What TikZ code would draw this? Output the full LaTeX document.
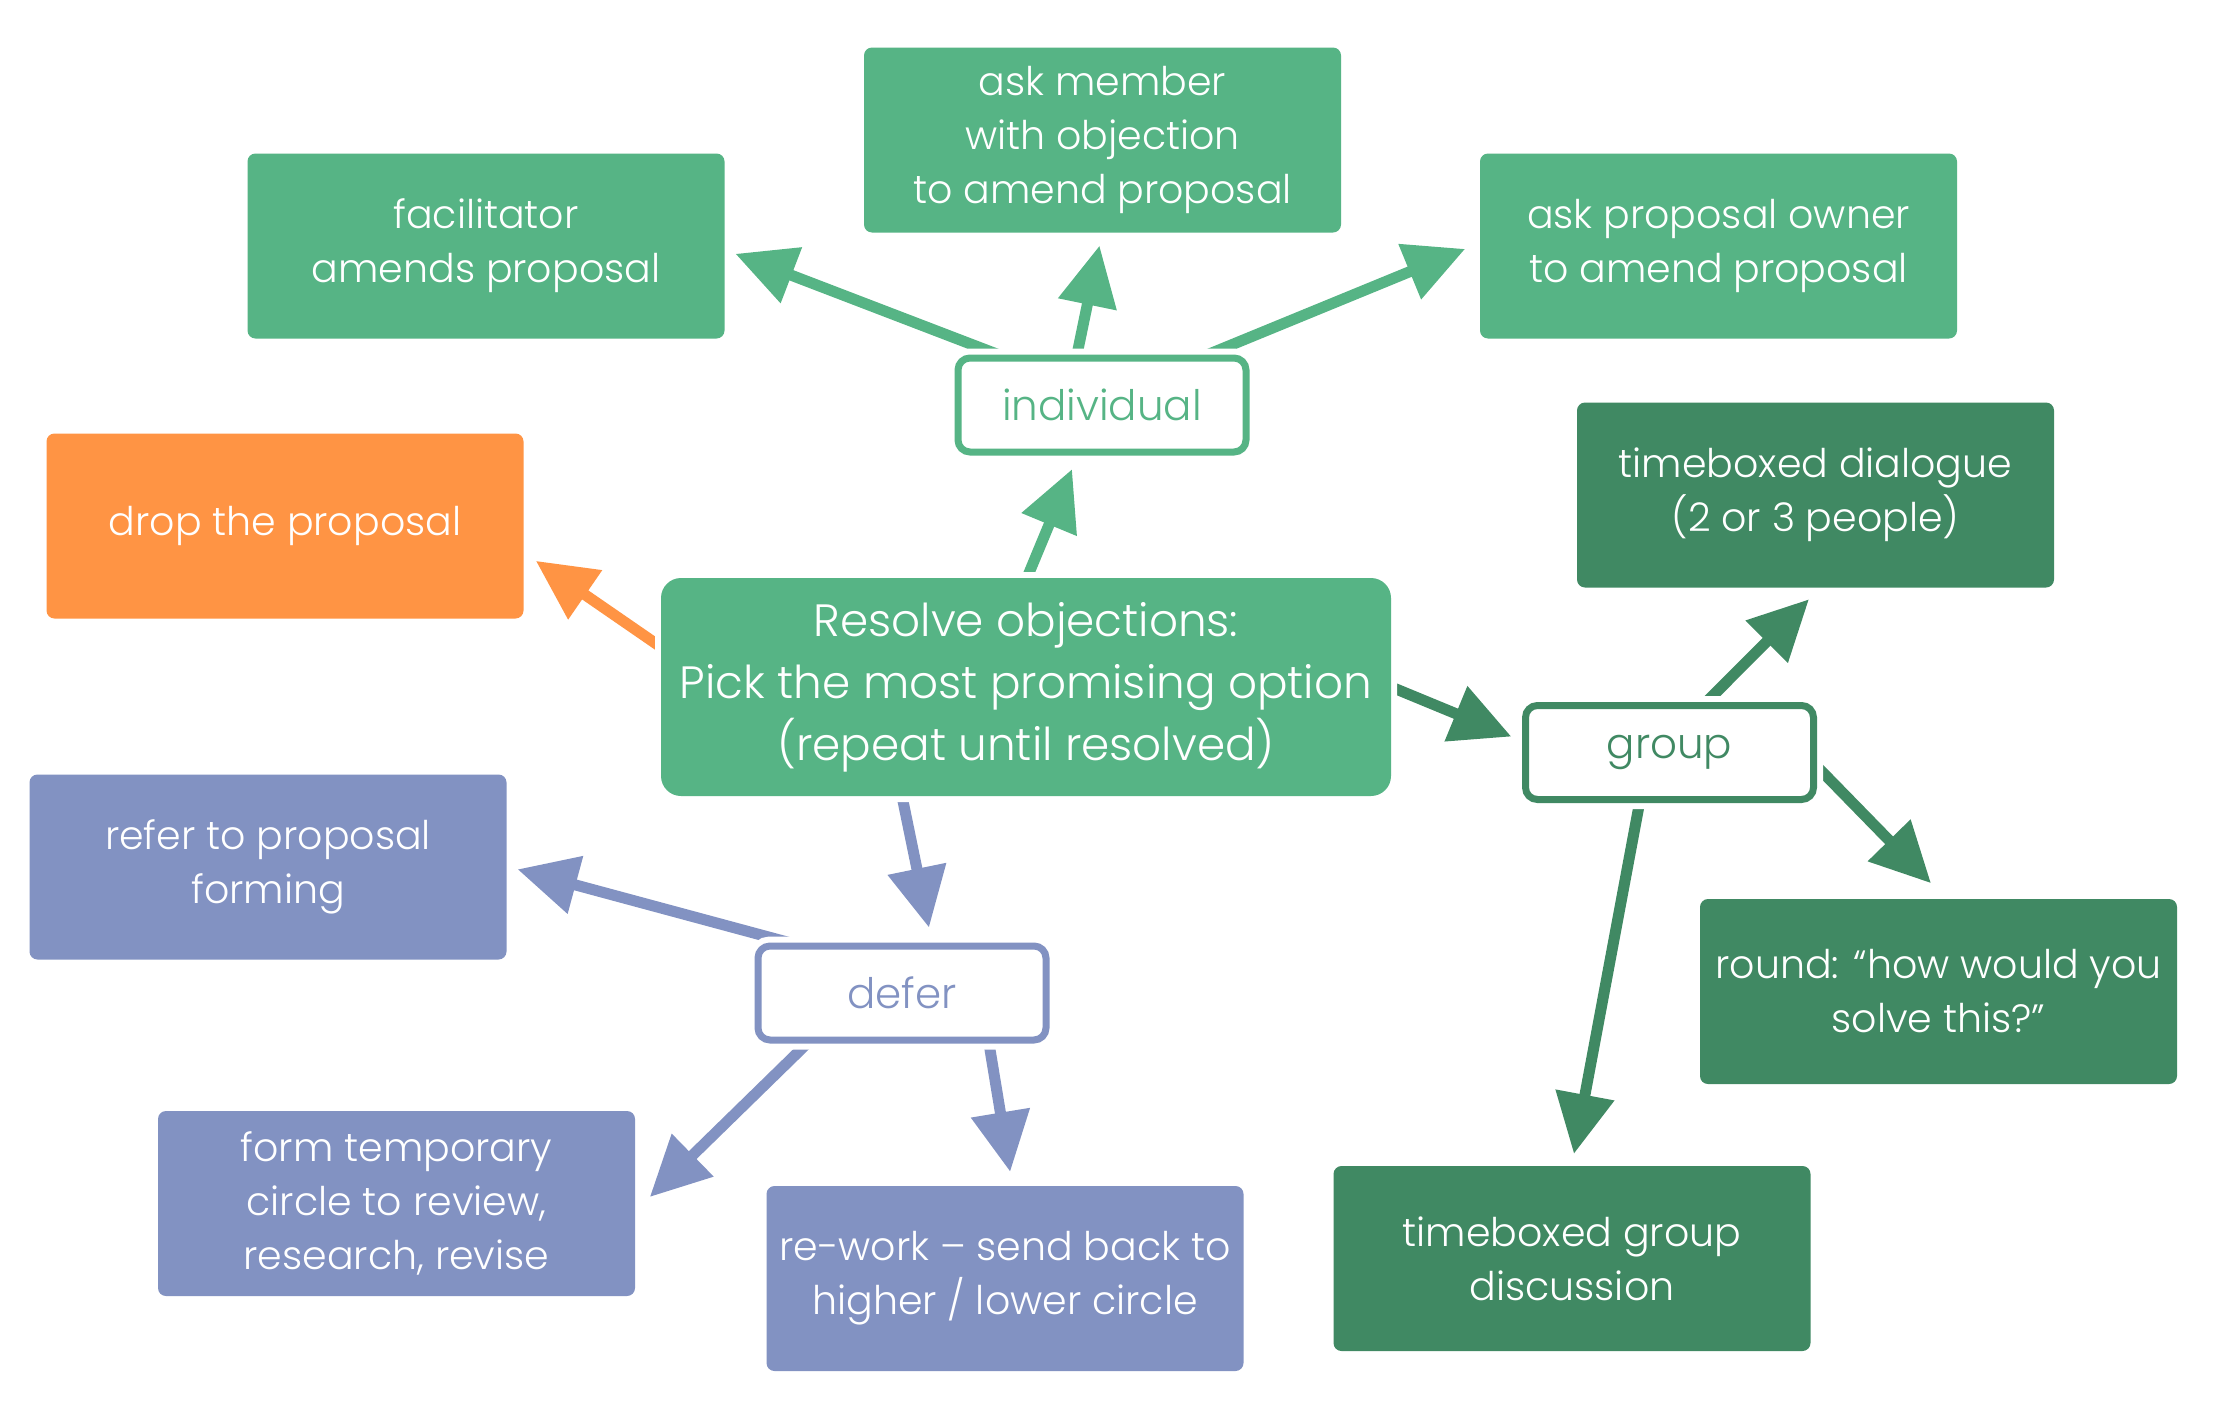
\documentclass[tikz,border=0pt]{standalone}
\usepackage{fontspec}
\setmainfont{Poppins}[UprightFont=* Light]
\usetikzlibrary{arrows.meta,calc}
\pgfdeclarelayer{bg}
\pgfsetlayers{bg,main}
\definecolor{gmid}{RGB}{86,180,133}
\definecolor{gdark}{RGB}{64,137,99}
\definecolor{orng}{RGB}{255,148,68}
\definecolor{blu}{RGB}{130,146,194}
\tikzset{
  fbox/.style={rectangle, rounded corners=8pt, minimum width=477pt, minimum height=185pt,
    inner sep=0pt, align=center, text=white, font=\fontsize{39.5}{54}\selectfont,
    fill=#1, preaction={draw=white, line width=12pt}},
  obox/.style={rectangle, rounded corners=12pt, minimum width=288pt, minimum height=94pt,
    inner sep=0pt, align=center, text=#1, draw=#1, line width=7pt, fill=white,
    font=\fontsize{42}{54}\selectfont, preaction={draw=white, line width=19pt}},
  arr/.style={draw=#1, line width=11pt, shorten <=-25pt,
    -{Triangle[length=60pt,width=57pt,sep=5pt]}},
}
\begin{document}
\begin{tikzpicture}[x=1pt,y=-1pt]
\useasboundingbox (0,0) rectangle (2216,1419);
% nodes
\node[fbox=gmid] (fac) at (486,246) {facilitator\\amends proposal};
\node[fbox=gmid] (ask) at (1102.5,140) {ask member\\with objection\\to amend proposal};
\node[fbox=gmid] (own) at (1718.5,246) {ask proposal owner\\to amend proposal};
\node[obox=gmid] (ind) at (1102,405) {individual};
\node[fbox=orng] (drop) at (285,526) {drop the proposal};
\node[fbox=gmid, rounded corners=20pt, minimum width=730pt, minimum height=218pt,
      font=\fontsize{45.3}{62}\selectfont] (res) at (1026,687)
      {Resolve objections:\\Pick the most promising option\\(repeat until resolved)};
\node[fbox=gdark] (dia) at (1815.5,495) {timeboxed dialogue\\(2 or 3 people)};
\node[obox=gdark] (grp) at (1669.5,752.5) {group};
\node[fbox=gdark] (rnd) at (1938.5,991.5) {round: “how would you\\solve this?”};
\node[fbox=gdark] (disc) at (1572,1258.5) {timeboxed group\\discussion};
\node[fbox=blu] (ref) at (268,867) {refer to proposal\\forming};
\node[obox=blu] (def) at (902,993) {defer};
\node[fbox=blu] (tmp) at (396.5,1203.5) {form temporary\\circle to review,\\research, revise};
\node[fbox=blu] (rew) at (1005,1278.5) {re-work – send back to\\higher / lower circle};
% connectors
\begin{pgfonlayer}{bg}
\draw[arr=gmid] ($(ind.north)+(-104,0)$) -- ($(fac.east)+(6,6)$);
\draw[arr=gmid] ($(ind.north)+(-25,0)$) -- ($(ask.south)+(-2,8)$);
\draw[arr=gmid] ($(ind.north)+(106,0)$) -- ($(own.west)+(-10,1)$);
\draw[arr=gmid] ($(res.north)+(1,0)$) -- ($(ind.south)+(-28,9)$);
\draw[arr=orng] ($(res.west)+(0,-40)$) -- ($(drop.east)+(8,32)$);
\draw[arr=gdark] ($(res.east)+(0,0)$) -- ($(grp.west)+(-6,-14)$);
\draw[arr=blu] ($(res.south)+(-124,0)$) -- ($(def.north)+(28,-10)$);
\draw[arr=gdark] ($(grp.north)+(37,0)$) -- ($(dia.south)+(-3,8)$);
\draw[arr=gdark] ($(grp.east)+(0,14)$) -- ($(rnd.north)+(-4,-12)$);
\draw[arr=gdark] ($(grp.south)+(-30,0)$) -- ($(disc.north)+(1,-7)$);
\draw[arr=blu] ($(def.north)+(-113,0)$) -- ($(ref.east)+(6,1)$);
\draw[arr=blu] ($(def.south)+(-95,0)$) -- ($(tmp.east)+(11,-3)$);
\draw[arr=blu] ($(def.south)+(87,0)$) -- ($(rew.north)+(6,-9)$);
\end{pgfonlayer}
\end{tikzpicture}
\end{document}
